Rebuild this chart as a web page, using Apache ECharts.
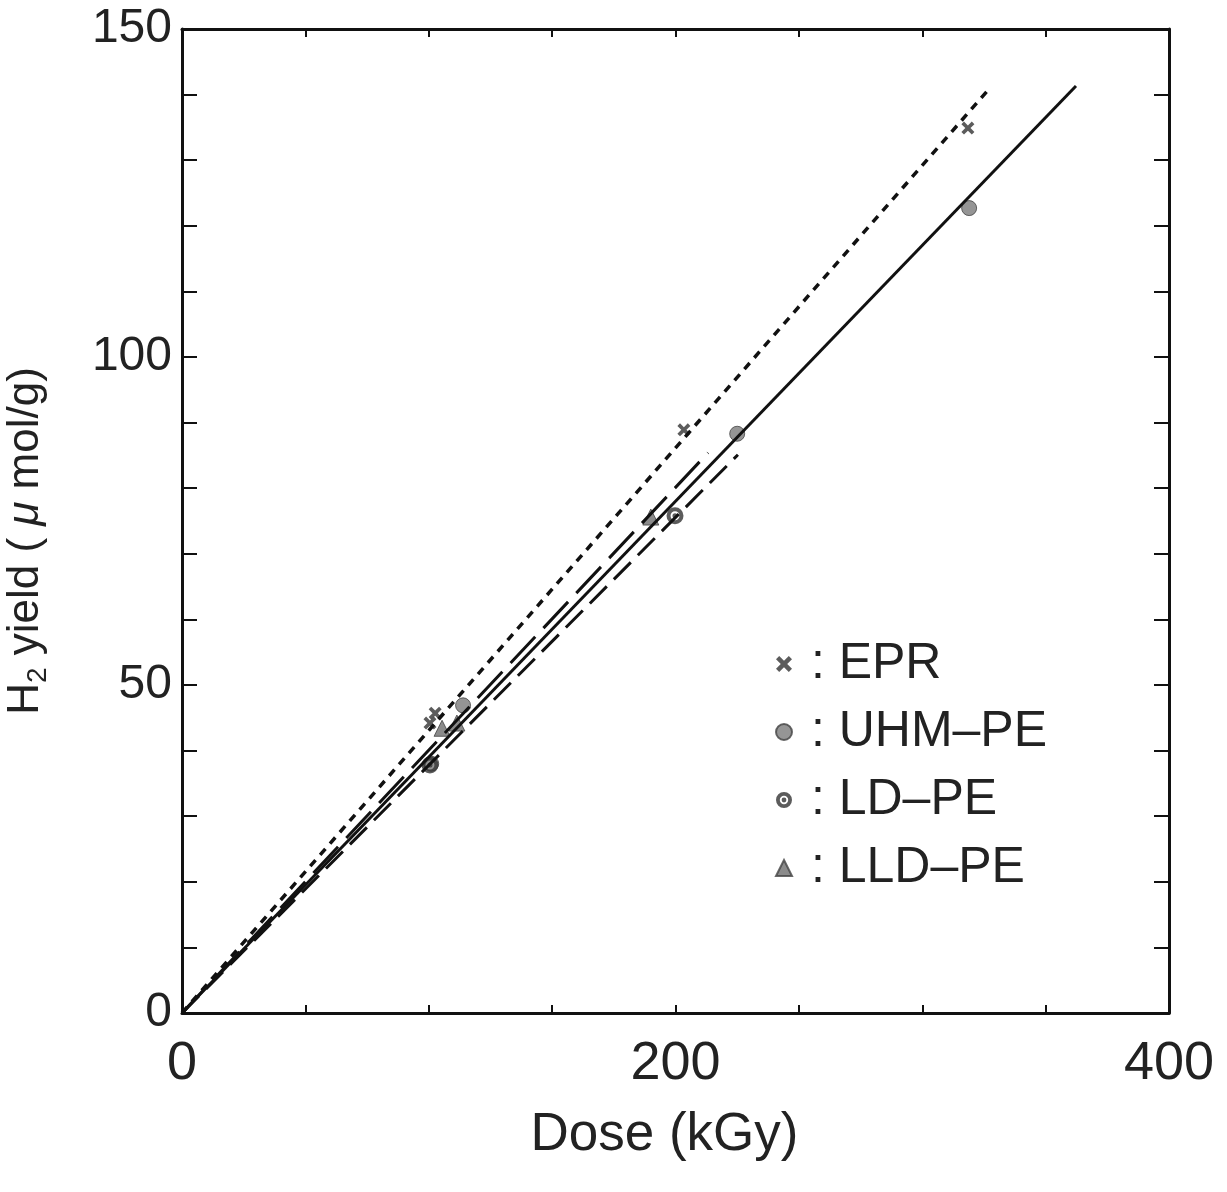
<!DOCTYPE html>
<html>
<head>
<meta charset="utf-8">
<script src="https://cdn.jsdelivr.net/npm/echarts@6/dist/echarts.min.js"></script>
<style>html,body{margin:0;padding:0;background:#fff;}#c{width:1227px;height:1192px;}</style>
</head>
<body>
<div id="c"></div>
<script>
// Measured data (Dose kGy, H2 yield umol/g)
const eprData = [[100.5, 44.2], [102.6, 45.7], [203.4, 88.9], [318.5, 134.9]];
const uhmData = [[101.0, 38.0], [113.9, 46.9], [225.0, 88.3], [319.0, 122.7]];
const ldData = [[100.5, 37.8], [199.8, 75.8]];
const lldData = [[105.4, 43.4], [111.4, 44.2], [190.0, 75.6]];
// Fit lines (through origin)
const eprFit = [[0, 0], [326.7, 140.7]];
const uhmFit = [[0, 0], [362.3, 141.3]];
const ldFit = [[0, 0], [225.3, 85.1]];
const lldFit = [[0, 0], [213.2, 85.4]];
const seriesNames = ['EPR', 'UHM\u2013PE', 'LD\u2013PE', 'LLD\u2013PE'];
const xTickLabels = [0, 200, 400];
const yTickLabels = [0, 50, 100, 150];

const FONT = 'Liberation Sans, Arial, sans-serif';
const TXT = '#222';
const crossPath = 'path://M2,0 L5,3 L8,0 L10,2 L7,5 L10,8 L8,10 L5,7 L2,10 L0,8 L3,5 L0,2 Z';
const ringPath = 'path://M8,0 A8,8 0 1 1 -8,0 A8,8 0 1 1 8,0 Z M4.2,0 A4.2,4.2 0 1 0 -4.2,0 A4.2,4.2 0 1 0 4.2,0 Z M2.4,0 A2.4,2.4 0 1 1 -2.4,0 A2.4,2.4 0 1 1 2.4,0 Z';

const chart = echarts.init(document.getElementById('c'));
const axisLineStyle = { show: true, onZero: false, lineStyle: { color: '#111', width: 3 } };
const option = {
  backgroundColor: '#fff',
  animation: false,
  grid: { left: 182, top: 29, right: 58, bottom: 179, containLabel: false, outerBoundsMode: 'none' },
  legend: {
    data: seriesNames,
    orient: 'vertical',
    left: 770,
    top: 634,
    itemGap: 18,
    itemWidth: 16,
    itemHeight: 16,
    formatter: ' : {name}',
    textStyle: { fontFamily: FONT, fontSize: 50, color: TXT }
  },
  xAxis: [
    {
      type: 'value', min: 0, max: 400, interval: 50, position: 'bottom',
      name: 'Dose (kGy)', nameLocation: 'middle', nameGap: 96,
      nameTextStyle: { fontFamily: FONT, fontSize: 53, color: TXT, padding: [0, 22, 0, 0] },
      axisLine: axisLineStyle,
      axisTick: { inside: true, length: 8, lineStyle: { color: '#111', width: 2 } },
      axisLabel: {
        margin: 24, fontFamily: FONT, fontSize: 54, color: TXT,
        formatter: v => xTickLabels.includes(v) ? String(v) : ''
      },
      splitLine: { show: false }
    },
    {
      type: 'value', min: 0, max: 400, interval: 50, position: 'top',
      axisLine: axisLineStyle,
      axisTick: { inside: true, length: 8, lineStyle: { color: '#111', width: 2 } },
      axisLabel: { show: false }, splitLine: { show: false }
    }
  ],
  yAxis: [
    {
      type: 'value', min: 0, max: 150, interval: 10, position: 'left',
      name: '{n|H}{s|2}{n| yield ( }{i|\u03bc}{n| mol/g)}',
      nameLocation: 'middle', nameGap: 130, nameRotate: 90,
      nameTextStyle: {
        fontFamily: FONT, fontSize: 44, color: TXT, padding: [0, 40, 0, 0],
        rich: {
          n: { fontFamily: FONT, fontSize: 44, color: TXT },
          s: { fontFamily: FONT, fontSize: 28, color: TXT, verticalAlign: 'bottom', padding: [24, 0, 0, 0] },
          i: { fontFamily: FONT, fontSize: 44, color: TXT, fontStyle: 'italic' }
        }
      },
      axisLine: axisLineStyle,
      axisTick: { inside: true, length: 15, lineStyle: { color: '#111', width: 2 } },
      axisLabel: {
        margin: 10, fontFamily: FONT, fontSize: 48, color: TXT,
        formatter: v => yTickLabels.includes(v) ? String(v) : ''
      },
      splitLine: { show: false }
    },
    {
      type: 'value', min: 0, max: 150, interval: 10, position: 'right',
      axisLine: axisLineStyle,
      axisTick: { inside: true, length: 15, lineStyle: { color: '#111', width: 2 } },
      axisLabel: { show: false }, splitLine: { show: false }
    }
  ],
  series: [
    { name: 'fitEPR', type: 'line', data: eprFit, symbol: 'none', silent: true,
      lineStyle: { color: '#111', width: 3.5, type: [8, 7] } },
    { name: 'fitUHM', type: 'line', data: uhmFit, symbol: 'none', silent: true,
      lineStyle: { color: '#111', width: 3 } },
    { name: 'fitLD', type: 'line', data: ldFit, symbol: 'none', silent: true,
      lineStyle: { color: '#111', width: 3, type: [24, 10] } },
    { name: 'fitLLD', type: 'line', data: lldFit, symbol: 'none', silent: true,
      lineStyle: { color: '#111', width: 3, type: [36, 12] } },
    { name: 'frameTop', type: 'line', xAxisIndex: 1, yAxisIndex: 1, data: [], silent: true },
    { name: seriesNames[0], type: 'scatter', data: eprData, symbol: crossPath, symbolSize: 13,
      itemStyle: { color: '#333' } },
    { name: seriesNames[1], type: 'scatter', data: uhmData, symbol: 'circle', symbolSize: 15,
      itemStyle: { color: '#7a7a7a', borderColor: '#444', borderWidth: 1 } },
    { name: seriesNames[2], type: 'scatter', data: ldData, symbol: ringPath, symbolSize: 17,
      itemStyle: { color: '#333' } },
    { name: seriesNames[3], type: 'scatter', data: lldData, symbol: 'triangle', symbolSize: 16,
      itemStyle: { color: '#6e6e6e', borderColor: '#444', borderWidth: 1 } }
  ]
};
chart.setOption(option);
</script>
</body>
</html>
